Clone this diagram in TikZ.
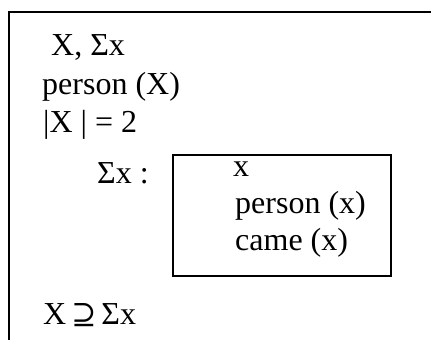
\documentclass[tikz,border=0pt]{standalone}
\usepackage{fontspec}
\setmainfont{Liberation Serif}
\newfontfamily\symbfont{DejaVu Serif}
\begin{document}
\begin{tikzpicture}[x=1pt,y=-1pt,
  txt/.style={anchor=base west, inner sep=0pt, font=\fontsize{32}{37}\selectfont},
  frame/.style={line width=1.8pt}]
\useasboundingbox (0,0) rectangle (431,340);
\coordinate (tl) at (9,12);
\coordinate (tr) at (431,12);
\coordinate (bl) at (9,340);
\draw[frame] (tr) -- (tl) -- (bl);
\node[txt] (l1) at (51,55) {X, Σx};
\node[txt] (l2) at (42,94) {person (X)};
\node[txt] (l3) at (43,132) {|X | = 2};
\node[txt] (l4) at (97,183) {Σx :};
\node[draw, frame, inner sep=0pt, minimum width=218, minimum height=121, anchor=north west] (box) at (172,154) {};
\node[txt] (i1) at (233,176) {x};
\node[txt] (i2) at (235,213) {person (x)};
\node[txt] (i3) at (235,250) {came (x)};
\node[txt] (l5) at (43,324) {X\hspace{5pt}{\symbfont\fontsize{30}{37}\selectfont ⊇}\hspace{5pt}Σx};
\end{tikzpicture}
\end{document}
